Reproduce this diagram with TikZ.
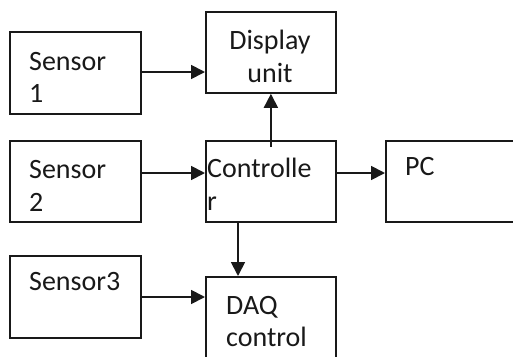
\documentclass[tikz,border=0pt]{standalone}
\usepackage{fontspec}
\setmainfont{Carlito}
\usetikzlibrary{arrows.meta}
\begin{document}
\begin{tikzpicture}[x=1pt,y=-1pt,
  box/.style={draw=black!90,line width=1.8pt,rectangle,inner sep=0pt,anchor=north west},
  lbl/.style={anchor=base west,inner sep=0pt,font=\fontsize{28}{33}\selectfont,text=black!90},
  arr/.style={line width=1.8pt,draw=black!90,-{Triangle[length=14pt,width=14pt]}}]
\useasboundingbox (0,0) rectangle (513,356);
\clip (0,0) rectangle (513,356);
\fill[white] (0,0) rectangle (513,356);
% boxes
\node[box,minimum width=131pt,minimum height=82pt] (s1) at (9,31) {};
\node[box,minimum width=130pt,minimum height=81pt] (disp) at (205,11) {};
\node[box,minimum width=131pt,minimum height=81pt] (s2) at (9,140) {};
\node[box,minimum width=130pt,minimum height=81pt] (ctrl) at (205,140) {};
\node[box,minimum width=140pt,minimum height=81pt] (pc) at (385,140) {};
\node[box,minimum width=131pt,minimum height=82pt] (s3) at (9,255) {};
\node[box,minimum width=130pt,minimum height=90pt] (daq) at (205,276) {};
% labels
\node[lbl] (t1a) at (29,70) {Sensor};
\node[lbl] (t1b) at (29,102) {1};
\node[lbl,anchor=base] (tda) at (270,49) {Display};
\node[lbl,anchor=base] (tdb) at (270,82) {unit};
\node[lbl] (t2a) at (29,178) {Sensor};
\node[lbl] (t2b) at (29,211) {2};
\node[lbl] (tca) at (207,177) {Controlle};
\node[lbl] (tcb) at (207,210) {r};
\node[lbl] (tpc) at (405,175) {PC};
\node[lbl] (t3) at (29,290) {Sensor3};
\node[lbl] (tqa) at (226,314) {DAQ};
\node[lbl] (tqb) at (226,346) {control};
% connectors
\draw[arr] (s1.east |- 0,72) -- (disp.west |- 0,72);
\draw[arr] (s2.east |- 0,173) -- (ctrl.west |- 0,173);
\draw[arr] (ctrl.east |- 0,173) -- (pc.west |- 0,173);
\draw[arr] (ctrl.north |- 0,147) -- (disp.south);
\draw[arr] (ctrl.south -| 238,0) -- (daq.north -| 238,0);
\draw[arr] (s3.east |- 0,297) -- (daq.west |- 0,297);
\end{tikzpicture}
\end{document}
